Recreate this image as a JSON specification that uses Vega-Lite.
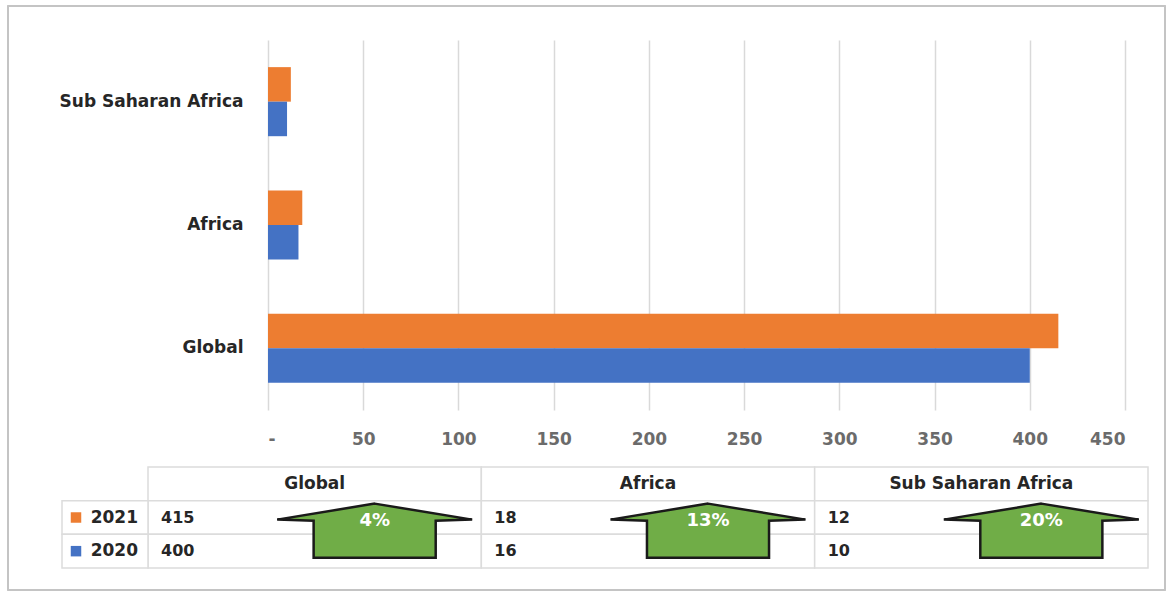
{
  "$schema": "https://vega.github.io/schema/vega-lite/v6.json",
  "width": 857,
  "height": 370,
  "autosize": {"type": "none"},
  "padding": {"left": 268, "top": 40, "right": 43, "bottom": 184},
  "background": "white",
  "config": {"view": {"stroke": null}, "font": "DejaVu Sans"},
  "datasets": {
    "bars": [
      {"region": "Global", "year": "2021", "value": 415},
      {"region": "Global", "year": "2020", "value": 400},
      {"region": "Africa", "year": "2021", "value": 18},
      {"region": "Africa", "year": "2020", "value": 16},
      {"region": "Sub Saharan Africa", "year": "2021", "value": 12},
      {"region": "Sub Saharan Africa", "year": "2020", "value": 10}
    ],
    "growth": [
      {"region": "Global", "pct": "4%"},
      {"region": "Africa", "pct": "13%"},
      {"region": "Sub Saharan Africa", "pct": "20%"}
    ],
    "years": [{"year": "2021"}, {"year": "2020"}]
  },
  "layer": [
    {
      "data": {"name": "bars"},
      "mark": {"type": "bar"},
      "encoding": {
        "y": {
          "field": "region", "type": "nominal",
          "scale": {"domain": ["Sub Saharan Africa", "Africa", "Global"], "paddingInner": 0.44, "paddingOuter": 0.22},
          "axis": {"title": null, "domain": false, "ticks": false, "labelFontSize": 17, "labelFontWeight": "bold", "labelColor": "#262626", "labelPadding": 25, "labelLimit": 400, "labelFont": "DejaVu Sans"}
        },
        "yOffset": {"field": "year", "type": "nominal", "scale": {"domain": ["2021", "2020"], "paddingInner": 0, "paddingOuter": 0}},
        "x": {
          "field": "value", "type": "quantitative",
          "scale": {"domain": [0, 450], "nice": false},
          "axis": {"title": null, "values": [0, 50, 100, 150, 200, 250, 300, 350, 400, 450], "labelExpr": "datum.value == 0 ? '-' : datum.label", "domain": false, "ticks": false, "grid": true, "gridColor": "#d9d9d9", "gridWidth": 1.5, "labelFontSize": 17, "labelFontWeight": "bold", "labelColor": "#6b6b6b", "labelPadding": 21, "labelFont": "DejaVu Sans"}
        },
        "color": {"field": "year", "type": "nominal", "scale": {"domain": ["2021", "2020"], "range": ["#ED7D31", "#4472C4"]}, "legend": null}
      }
    },
    {
      "layer": [
        {
          "data": {"name": "growth"},
          "mark": {"type": "rect", "fill": null, "stroke": "#c4c4c4", "strokeWidth": 1.5, "xOffset": -140, "x2Offset": 17, "yOffset": -461, "y2Offset": 22},
          "encoding": {
            "x": {"datum": "Global", "type": "nominal", "bandPosition": 0, "scale": {"domain": ["Global", "Africa", "Sub Saharan Africa"], "range": [-120, 880], "paddingInner": 0, "paddingOuter": 0}, "axis": null},
            "x2": {"datum": "Sub Saharan Africa", "bandPosition": 1},
            "y": {"datum": "header", "type": "nominal", "bandPosition": 0, "scale": {"domain": ["header", "2021", "2020"], "range": [427, 528], "paddingInner": 0, "paddingOuter": 0}, "axis": null},
            "y2": {"datum": "2020", "bandPosition": 1}
          }
        },
        {
          "data": {"name": "growth"},
          "mark": {"type": "rect", "fill": "white", "stroke": "#dcdcdc", "strokeWidth": 1.5},
          "encoding": {
            "x": {"field": "region", "type": "nominal"},
            "y": {"datum": "header", "type": "nominal"}
          }
        },
        {
          "data": {"name": "bars"},
          "mark": {"type": "rect", "fill": "white", "stroke": "#dcdcdc", "strokeWidth": 1.5},
          "encoding": {
            "x": {"field": "region", "type": "nominal"},
            "y": {"field": "year", "type": "nominal"}
          }
        },
        {
          "data": {"name": "years"},
          "mark": {"type": "rect", "fill": "white", "stroke": "#dcdcdc", "strokeWidth": 1.5, "xOffset": -86},
          "encoding": {
            "x": {"datum": "Global", "type": "nominal", "bandPosition": 0},
            "x2": {"datum": "Global", "bandPosition": 0},
            "y": {"field": "year", "type": "nominal"}
          }
        },
        {
          "data": {"name": "years"},
          "mark": {"type": "point", "shape": "square", "filled": true, "size": 110, "opacity": 1, "xOffset": -72},
          "encoding": {
            "x": {"datum": "Global", "type": "nominal", "bandPosition": 0},
            "y": {"field": "year", "type": "nominal"},
            "color": {"field": "year", "type": "nominal", "legend": null}
          }
        },
        {
          "data": {"name": "years"},
          "mark": {"type": "text", "align": "right", "baseline": "middle", "dx": -10, "fontSize": 17, "fontWeight": "bold", "color": "#262626", "font": "DejaVu Sans"},
          "encoding": {
            "x": {"datum": "Global", "type": "nominal", "bandPosition": 0},
            "y": {"field": "year", "type": "nominal"},
            "text": {"field": "year"}
          }
        },
        {
          "data": {"name": "growth"},
          "mark": {"type": "text", "align": "center", "baseline": "middle", "fontSize": 17, "fontWeight": "bold", "color": "#262626", "font": "DejaVu Sans"},
          "encoding": {
            "x": {"field": "region", "type": "nominal"},
            "y": {"datum": "header", "type": "nominal"},
            "text": {"field": "region"}
          }
        },
        {
          "data": {"name": "bars"},
          "mark": {"type": "text", "align": "left", "baseline": "middle", "dx": 13, "fontSize": 16, "fontWeight": "bold", "color": "#262626", "font": "DejaVu Sans"},
          "encoding": {
            "x": {"field": "region", "type": "nominal", "bandPosition": 0},
            "y": {"field": "year", "type": "nominal"},
            "text": {"field": "value", "type": "quantitative"}
          }
        },
        {
          "data": {"name": "growth"},
          "mark": {"type": "point", "shape": "M0,-0.315L1,-0.151L0.626,-0.14L0.626,0.239L-0.626,0.239L-0.626,-0.14L-1,-0.151Z", "size": 38025, "filled": true, "fill": "#70AD47", "stroke": "#1a1a1a", "strokeWidth": 2.5, "opacity": 1},
          "encoding": {
            "x": {"field": "region", "type": "nominal", "bandPosition": 0.68},
            "y": {"datum": "2020", "type": "nominal", "bandPosition": 0}
          }
        },
        {
          "data": {"name": "growth"},
          "mark": {"type": "text", "align": "center", "baseline": "middle", "fontSize": 18, "fontWeight": "bold", "color": "white", "font": "DejaVu Sans"},
          "encoding": {
            "x": {"field": "region", "type": "nominal", "bandPosition": 0.68},
            "y": {"datum": "2021", "type": "nominal", "bandPosition": 0.6},
            "text": {"field": "pct"}
          }
        }
      ]
    }
  ],
  "resolve": {"scale": {"x": "independent", "y": "independent"}, "axis": {"x": "independent", "y": "independent"}}
}
